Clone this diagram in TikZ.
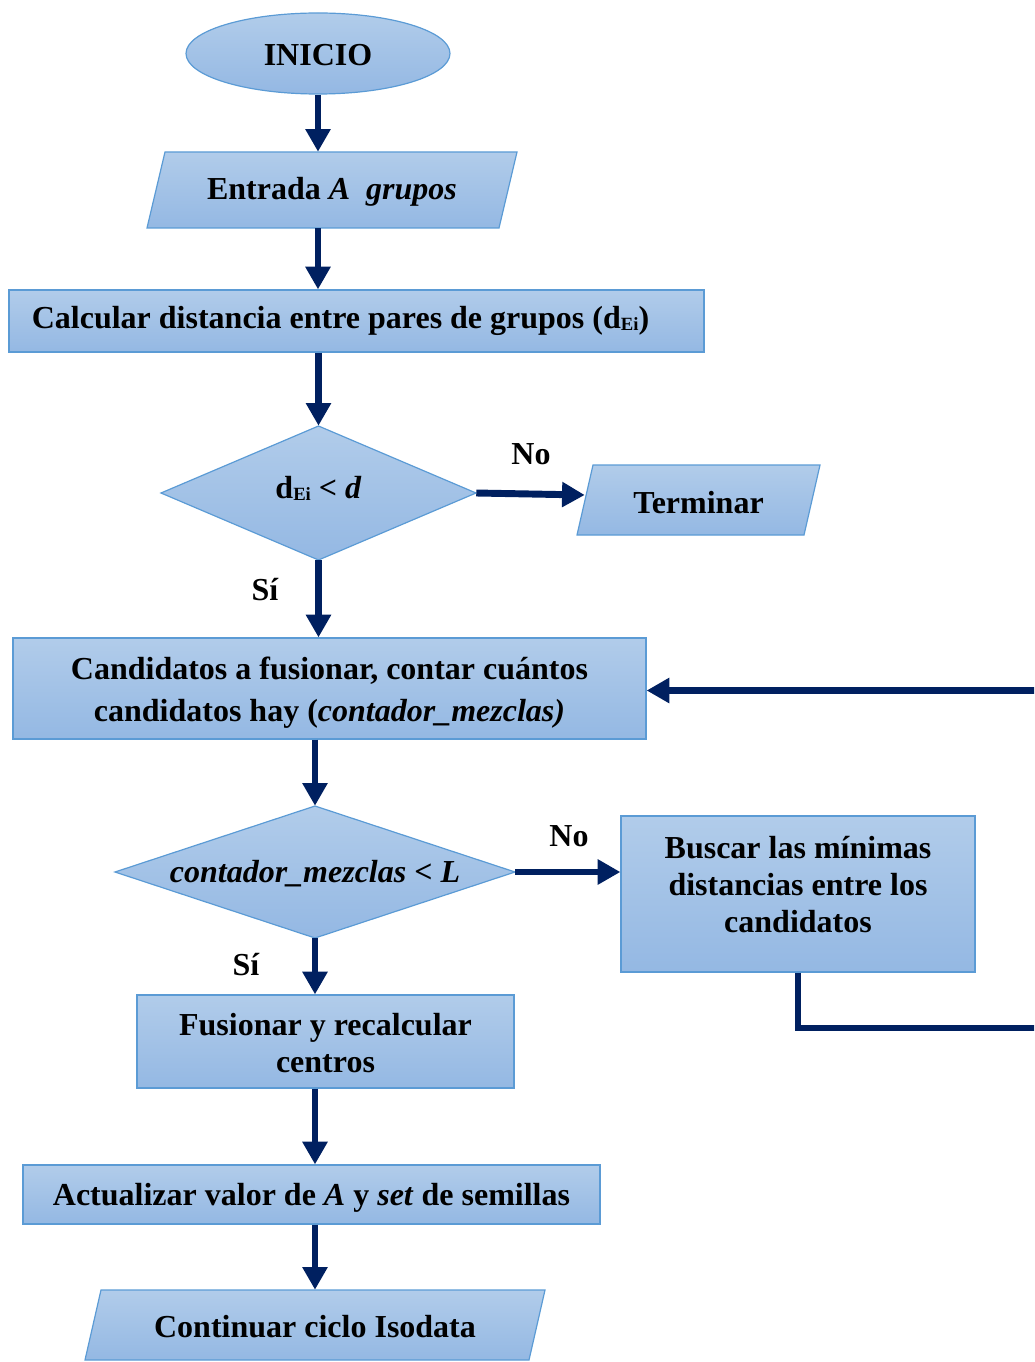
\documentclass[tikz,border=0pt]{standalone}
\usepackage{fontspec}
\setmainfont{Liberation Serif}
\usetikzlibrary{shapes.geometric,arrows.meta}

\definecolor{boxtop}{HTML}{B1CCEA}
\definecolor{boxbot}{HTML}{94B8E3}
\definecolor{boxline}{HTML}{5B9BD5}
\definecolor{flow}{HTML}{002060}

\newcommand\boxfont{\bfseries\fontsize{24}{28}\selectfont}
\newcommand\sbEi{\raisebox{-1.5pt}{\fontsize{14}{14}\selectfont Ei}}

\tikzset{
  x=0.75pt, y=-0.75pt,
  shaded/.style={draw=boxline, line width=0.9pt, top color=boxtop, bottom color=boxbot},
  box/.style={shaded, inner sep=0pt},
  txt/.style={inner sep=0pt, font=\boxfont, align=center},
  flowarrow/.style={draw=flow, line width=5.2pt, -{Triangle[length=17pt,width=18pt]}},
  lbl/.style={font=\boxfont, inner sep=0pt},
}

% rectangle: name, cx, cy, width, height, text shift (px, down), text
\newcommand\rectbox[7]{%
  \node[box, minimum width=#4*0.75pt, minimum height=#5*0.75pt] (#1) at (#2,#3) {};
  \node[txt] (#1-t) at ([yshift=-#6*0.75pt]#1.center) {#7};
}

% parallelogram: name, cx, cy, width at mid-height, height, half slant, text shift, text
\newcommand\pgrambox[8]{%
  \path[shaded] (#2-#4/2-#6, #3+#5/2) -- (#2+#4/2-#6, #3+#5/2)
    -- (#2+#4/2+#6, #3-#5/2) -- (#2-#4/2+#6, #3-#5/2) -- cycle;
  \node[inner sep=0pt, minimum width=#4*0.75pt, minimum height=#5*0.75pt] (#1) at (#2,#3) {};
  \node[txt] (#1-t) at ([yshift=-#7*0.75pt]#1.center) {#8};
}

% decision diamond: name, cx, cy, width, height, text shift, text
\newcommand\diabox[7]{%
  \path[shaded] (#2-#4/2, #3) -- (#2, #3-#5/2) -- (#2+#4/2, #3) -- (#2, #3+#5/2) -- cycle;
  \node[inner sep=0pt, minimum width=#4*0.75pt, minimum height=#5*0.75pt] (#1) at (#2,#3) {};
  \node[txt] (#1-t) at ([yshift=-#6*0.75pt]#1.center) {#7};
}

\begin{document}
\begin{tikzpicture}
\useasboundingbox (0,0) rectangle (1034,1362);
\clip (0,0) rectangle (1034,1362);

% start
\node[box, ellipse, minimum width=264*0.75pt, minimum height=81*0.75pt] (ini) at (318,53.5) {};
\node[txt] (ini-t) at ([yshift=-1.5pt]ini.center) {INICIO};

% input
\pgrambox{ent}{332}{190}{352}{76}{9}{2}{Entrada \textit{A}\ \ \textit{grupos}}

% distances
\rectbox{calc}{356.5}{321}{695}{62}{0}{Calcular distancia entre pares de grupos (d\sbEi)\hspace*{24pt}}

% first decision
\diabox{d1}{318.5}{493}{315}{134}{-5}{d\sbEi{} < \textit{d}}

\pgrambox{term}{698.5}{500}{227}{70}{8}{3}{Terminar}

% merge candidates
\rectbox{cand}{329.5}{688.5}{633}{101}{4}{Candidatos a fusionar, contar cuántos\\[3.5pt]candidatos hay (\textit{contador\_mezclas)}}

% second decision
\diabox{d2}{315}{872}{400}{132}{2}{\textit{contador\_mezclas} < \textit{L}}

\rectbox{busc}{798}{894}{354}{156}{-9.5}{Buscar las mínimas\\distancias entre los\\candidatos}

\rectbox{fus}{325.5}{1041.5}{377}{93}{1.5}{Fusionar y recalcular\\centros}

\rectbox{act}{311.5}{1194.5}{577}{59}{3}{Actualizar valor de \textit{A} y \textit{set} de semillas}

\pgrambox{cont}{315}{1325}{444}{70}{8}{2}{Continuar ciclo Isodata}

% branch labels
\node[lbl] (no1) at (531,454) {No};
\node[lbl] (si1) at (265,590) {Sí};
\node[lbl] (no2) at (569,836) {No};
\node[lbl] (si2) at (246,965) {Sí};

% connectors
\draw[flowarrow] (ini.south) -- (ini.south |- ent.north);
\draw[flowarrow] (ini.south |- ent.south) -- (ini.south |- calc.north);
\draw[flowarrow] (d1.north |- calc.south) -- (d1.north);
\draw[flowarrow] (d1.east) -- ([yshift=3.75pt]term.west);
\draw[flowarrow] (d1.south) -- (d1.south |- cand.north);
\draw[flowarrow] (d2.north |- cand.south) -- (d2.north);
\draw[flowarrow] (d2.east) -- (busc.west |- d2.east);
\draw[flowarrow] (d2.south) -- (d2.south |- fus.north);
\draw[flowarrow] (d2.south |- fus.south) -- (d2.south |- act.north);
\draw[flowarrow] (cont.north |- act.south) -- (cont.north);

% loop back to the candidates box
\coordinate (loopbot) at (1060,1028);
\draw[flowarrow] (busc.south) |- (loopbot) |- ([yshift=-1.5pt]cand.east);
\end{tikzpicture}
\end{document}
